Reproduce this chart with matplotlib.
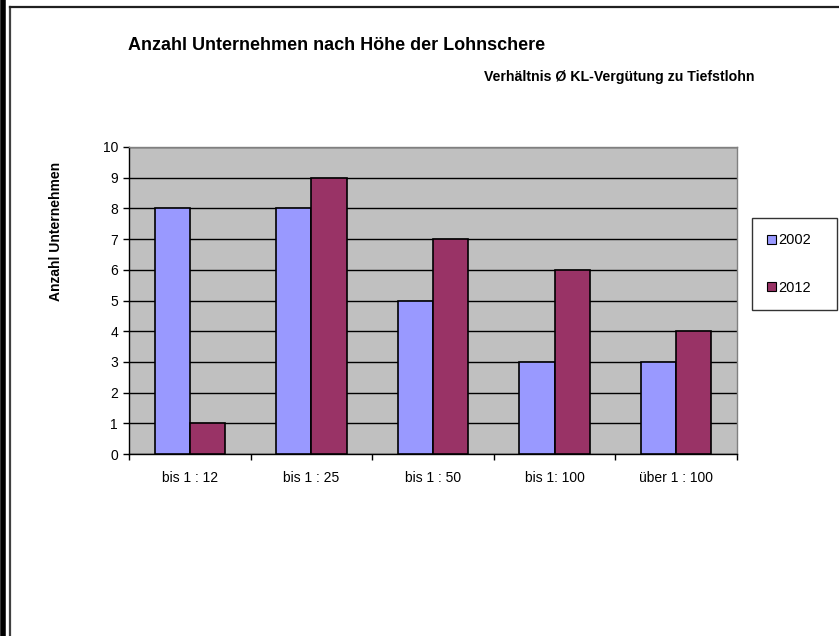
import matplotlib
matplotlib.use("Agg")
import matplotlib.pyplot as plt
import matplotlib.lines as mlines
import numpy as np

# Daten
kategorien = ["bis 1 : 12", "bis 1 : 25", "bis 1 : 50", "bis 1: 100", "über 1 : 100"]
werte_2002 = [8, 8, 5, 3, 3]
werte_2012 = [1, 9, 7, 6, 4]
jahre = ["2002", "2012"]
y_ticks = list(range(0, 11))

plt.rcParams['font.family'] = ['Liberation Sans', 'DejaVu Sans']

fig = plt.figure(figsize=(8.39, 6.36), dpi=100)
W, H = 839, 636

# Plotbereich in Pixeln
left, right, top, bottom = 129, 737, 147, 454
ax = fig.add_axes([left / W, 1 - bottom / H, (right - left) / W, (bottom - top) / H])
ax.set_facecolor('#C0C0C0')

x = np.arange(len(kategorien))
bw = 0.29
ax.bar(x - bw / 2, werte_2002, bw, color='#9999FF', edgecolor='black', linewidth=1.2, zorder=3, label=jahre[0])
ax.bar(x + bw / 2, werte_2012, bw, color='#993366', edgecolor='black', linewidth=1.2, zorder=3, label=jahre[1])

ax.set_xlim(-0.5, len(kategorien) - 0.5)
ax.set_ylim(0, 10)
ax.set_yticks(y_ticks)
ax.yaxis.grid(True, color='black', linewidth=1, zorder=1)
ax.set_axisbelow(True)

ax.set_xticks(np.arange(len(kategorien) + 1) - 0.5, minor=False)
ax.set_xticklabels([])
ax.set_xticks(x, minor=True)
ax.set_xticklabels(kategorien, minor=True, fontsize=10)
ax.tick_params(axis='x', which='minor', length=0, pad=12)
ax.tick_params(axis='x', which='major', length=4, direction='out', width=1)
ax.tick_params(axis='y', length=4, width=1, labelsize=10, pad=4)

for s in ['top', 'right']:
    ax.spines[s].set_color('#808080')
    ax.spines[s].set_linewidth(1)
for s in ['left', 'bottom']:
    ax.spines[s].set_color('black')
    ax.spines[s].set_linewidth(1)

# Achsentitel
fig.text(56 / W, 1 - 231 / H, "Anzahl Unternehmen", rotation=90,
         fontsize=10, fontweight='bold', ha='center', va='center')

# Titel
fig.text(128 / W, 1 - 45 / H, "Anzahl Unternehmen nach Höhe der Lohnschere",
         fontsize=13, fontweight='bold', ha='left', va='center')
fig.text(755 / W, 1 - 77 / H, "Verhältnis Ø KL-Vergütung zu Tiefstlohn",
         fontsize=10.2, fontweight='bold', ha='right', va='center')

# Legende
leg = fig.legend(loc='upper left', bbox_to_anchor=(752 / W, 1 - 313 / H, 85 / W, 95 / H),
                 mode='expand', fontsize=10.5, frameon=True, fancybox=False,
                 borderaxespad=0, handlelength=0.6, handleheight=0.6, handletextpad=0.15,
                 labelspacing=2.3, borderpad=1.05)
leg.get_frame().set_edgecolor('black')
leg.get_frame().set_linewidth(1)
for h in leg.legend_handles:
    h.set_linewidth(0.8)

# Rahmen
fig.add_artist(mlines.Line2D([2.5 / W, 2.5 / W], [0, 1], color='black', linewidth=4))
fig.add_artist(mlines.Line2D([10 / W, 10 / W], [0, 1 - 6.5 / H], color='#404040', linewidth=1.6))
fig.add_artist(mlines.Line2D([10 / W, 1], [1 - 6.5 / H, 1 - 6.5 / H], color='#202020', linewidth=1.6))

fig.savefig("out.png", dpi=100)
